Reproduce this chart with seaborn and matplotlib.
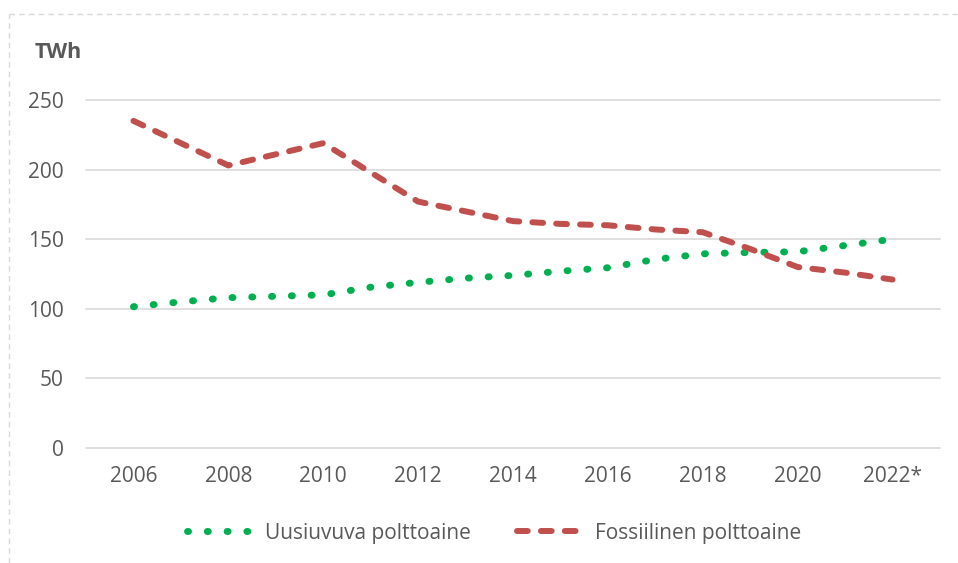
import seaborn as sns
import matplotlib.pyplot as plt
from matplotlib.lines import Line2D

# data (TWh)
years = list(range(2006, 2023))
uusiuvuva = [101.5, 105, 108, 109, 110, 115.5, 119, 122, 124, 127, 129.5, 135.5, 139.5, 140.5, 141, 145.5, 150]
fossiilinen = [235, 219, 203, 211, 219, 198, 177, 170, 163, 161, 160, 157, 155, 143, 130, 126, 121]
tick_years = list(range(2006, 2023, 2))
tick_labels = ["2006", "2008", "2010", "2012", "2014", "2016", "2018", "2020", "2022*"]

sns.set_theme(style="white")
plt.rcParams["font.family"] = ["Open Sans", "DejaVu Sans"]

grey = "#595959"
green = "#00B050"
red = "#C0504D"
dots = (0, (0.15, 2.7))
dashes = (0, (1.8, 2.2))

fig = plt.figure(figsize=(9.58, 5.63), dpi=100)
ax = fig.add_axes([86 / 958, 1 - 448 / 563, (940 - 86) / 958, (448 - 100) / 563])

sns.lineplot(x=years, y=uusiuvuva, color=green, linewidth=5, ax=ax,
             linestyle=dots, dash_capstyle="round", label="_u")
sns.lineplot(x=years, y=fossiilinen, color=red, linewidth=4.3, ax=ax,
             linestyle=dashes, dash_capstyle="round", label="_f")
if ax.get_legend() is not None:
    ax.get_legend().remove()

ax.set_xlim(2005, 2023)
ax.set_ylim(0, 250)
ax.set_yticks([0, 50, 100, 150, 200, 250])
ax.set_xticks(tick_years)
ax.set_xticklabels(tick_labels)
ax.tick_params(axis="both", length=0, labelsize=15, labelcolor=grey)
ax.tick_params(axis="x", pad=13)
ax.tick_params(axis="y", pad=16)
ax.yaxis.grid(True, color="#D9D9D9", linewidth=1.2)
ax.xaxis.grid(False)
for s in ax.spines.values():
    s.set_visible(False)
ax.set_xlabel("")
ax.set_ylabel("")
for gl in ax.get_ygridlines():
    gl.set_clip_on(False)

fig.text(35 / 958, 1 - 52 / 563, "TWh", fontsize=15.5, fontweight="bold", color=grey,
         ha="left", va="center")

handles = [
    Line2D([], [], color=green, linewidth=5, linestyle=dots, dash_capstyle="round"),
    Line2D([], [], color=red, linewidth=4.3, linestyle=dashes, dash_capstyle="round"),
]
fig.legend(handles, ["Uusiuvuva polttoaine", "Fossiilinen polttoaine"], loc="center",
           bbox_to_anchor=(494 / 958, 1 - 533 / 563), ncol=2, frameon=False,
           fontsize=15, labelcolor=grey, handlelength=3.0, handletextpad=0.75,
           columnspacing=2.2)

# dashed chart border
border = dict(color="#D9D9D9", linewidth=1, linestyle=(0, (4, 3)))
fig.add_artist(Line2D([9 / 958, 1], [1 - 14 / 563, 1 - 14 / 563], transform=fig.transFigure, **border))
fig.add_artist(Line2D([9 / 958, 9 / 958], [0, 1 - 14 / 563], transform=fig.transFigure, **border))

fig.savefig("out.png", dpi=100)
